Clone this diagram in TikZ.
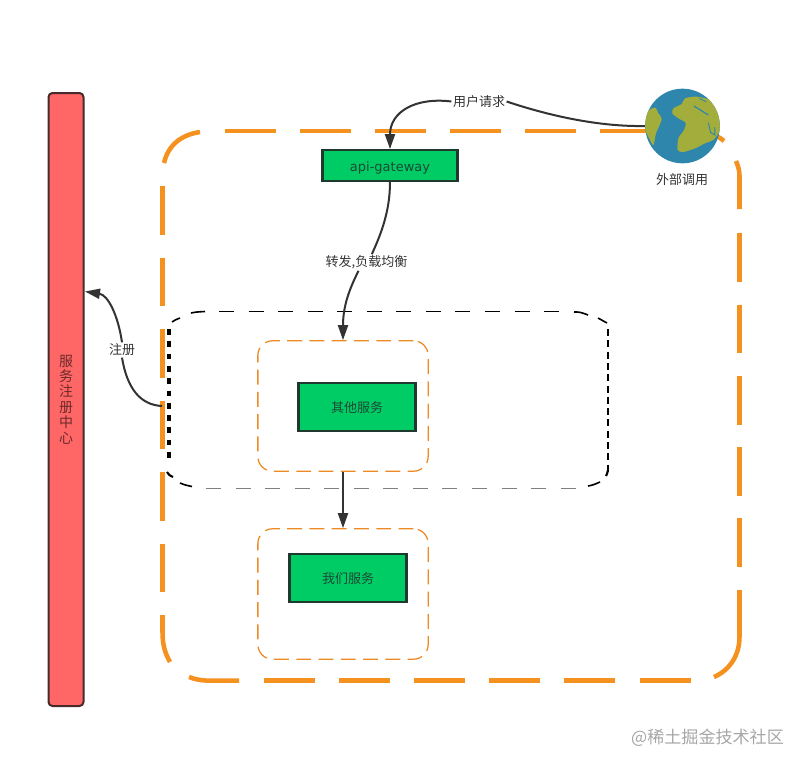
\documentclass[tikz,border=0pt]{standalone}
\usepackage{fontspec}
\setmainfont{Noto Sans CJK SC}
\newfontfamily\latinfont{DejaVu Sans}
\usetikzlibrary{arrows.meta}
\definecolor{frameorange}{HTML}{F5911E}
\definecolor{zoneorange}{HTML}{EE8A24}
\definecolor{servicegreen}{HTML}{00CC66}
\definecolor{greenedge}{HTML}{20392E}
\definecolor{greentext}{HTML}{1B4A33}
\definecolor{registryred}{HTML}{FF6666}
\definecolor{rededge}{HTML}{472A2A}
\definecolor{redtext}{HTML}{6B2B2B}
\definecolor{inkgrey}{HTML}{333333}
\definecolor{globeblue}{HTML}{2F86AC}
\definecolor{globegreen}{HTML}{A2AD3B}
\tikzstyle{gateway} = [rectangle, draw=greenedge, fill=servicegreen, line width=1.6pt, text=greentext,
font=\latinfont\fontsize{9.75}{12}\selectfont, minimum width=101.3pt, minimum height=23pt, inner sep=0pt]
\tikzstyle{service} = [rectangle, draw=greenedge, fill=servicegreen, line width=1.6pt, text=greentext,
font=\fontsize{9.75}{12}\selectfont, minimum width=87.8pt, minimum height=35.5pt, inner sep=0pt]
\tikzstyle{registry} = [rectangle, draw=rededge, fill=registryred, line width=1.5pt, rounded corners=3pt, text=redtext,
font=\fontsize{10.5}{11.6}\selectfont, align=center, minimum width=26.25pt, minimum height=459.75pt, inner sep=0pt]
\tikzstyle{zone} = [rectangle, draw=zoneorange, line width=0.95pt, rounded corners=11pt,
dash pattern=on 11.2pt off 5.5pt, minimum width=127.7pt, minimum height=97.8pt, inner sep=0pt]
\tikzstyle{caption} = [text=inkgrey, font=\fontsize{9.75}{12}\selectfont, inner sep=1pt]
\tikzstyle{frame} = [draw=frameorange, line width=3.4pt]
\tikzstyle{wire} = [draw=inkgrey, line width=1.5pt]
\tikzstyle{line} = [wire, -{Triangle[length=11.25pt,width=7.5pt]}]

\begin{document}
\begin{tikzpicture}[x=0.75pt, y=-0.75pt]
	\useasboundingbox (0,0) rectangle (804,768);

	% outer frame
	\foreach \xpos in {225,300,...,600}
		\draw [frame] (\xpos,131) -- ++(51,0);
	\foreach \ypos in {186,257.5,329,400.5,472,543.5}
		\draw [frame] (162.5,\ypos) -- ++(0,48.5);
	\foreach \ypos in {233,304.5,376,447,518}
		\draw [frame] (739.5,\ypos) -- ++(0,48.5);
	\foreach \xpos in {264,339,414,489,564,640}
		\draw [frame] (\xpos,680.7) -- ++(51,0);
	\draw [frame] (200,132) .. controls (180,135) and (168,146) .. (164,163);
	\draw [frame] (162.5,615) -- (162.5,632) .. controls (162.5,645) and (165,653) .. (170,662);
	\draw [frame] (189,677) .. controls (196,680) and (204,680.7) .. (212,680.7) -- (239,680.7);
	\draw [frame] (714,677) .. controls (730,670) and (739.5,655) .. (739.5,637) -- (739.5,590);
	\draw [frame] (736,161) .. controls (739,168) and (739.5,172) .. (739.5,176) -- (739.5,209);
	\draw [frame] (675,131) -- (695,131) .. controls (705,131) and (716,134) .. (724,141);

	% black box round the service
	\foreach \xpos in {219,248.55,...,545}
		\draw [black, line width=1.2pt] (\xpos,311.5) -- ++(15,0);
	\foreach \xpos in {206,235.55,...,562}
		\draw [gray, line width=0.7pt] (\xpos,488) -- ++(15,0);
	\foreach \ypos in {329,340.3,...,465}
		\draw [black, line width=1.6pt] (607.7,\ypos) -- ++(0,7);
	\foreach \ypos in {329,341.3,...,462}
		\draw [black, line width=2.7pt] (168.7,\ypos) -- ++(0,5.7);
	\draw [black, line width=1.2pt] (172,322) .. controls (175,320) .. (180,318);
	\draw [black, line width=1.2pt] (191,313) .. controls (196,312) .. (205,311.5);
	\draw [black, line width=1.2pt] (574,312) .. controls (580,312) .. (588,315);
	\draw [black, line width=1.2pt] (598,318) .. controls (603,320) .. (607,323);
	\draw [black, line width=1.2pt] (588,486) .. controls (593,485) .. (600,482);
	\draw [black, line width=1.6pt] (606,476) .. controls (607,474) .. (608,470);
	\draw [black, line width=1.2pt] (180,483) .. controls (185,485) .. (192,486.5);
	\draw [black, line width=1.6pt] (167,472) .. controls (169,475) .. (173,477);

	\node [registry] (registry) at (66,399.5) {服\\务\\注\\册\\中\\心};
	\node [zone] (otherzone) at (343,406) {};
	\node [zone] (ourzone) at (343,594) {};
	\node [service] (otherservice) at (357,407) {\raisebox{-4pt}[0pt][0pt]{其他服务}};
	\node [service] (ourservice) at (348,578) {\raisebox{-4pt}[0pt][0pt]{我们服务}};
	\node [gateway] (gateway) at (390,165.5) {\raisebox{-4.6pt}[0pt][0pt]{api-gateway}};

	% globe
	\node [circle, fill=globeblue, minimum size=56pt, inner sep=0pt] (globe) at (682.5,126) {};
	\begin{scope}
		\clip (682.5,126) circle (37.3);
		\begin{scope}[shift={(640,80)}, x=0.25pt, y=-0.25pt]
			\fill [globegreen] plot [smooth cycle, tension=0.5] coordinates {(10,125) (22,95) (45,83) (55,100) (65,118) (48,160) (40,195) (25,170) (10,140)};
			\fill [globegreen] plot [smooth cycle, tension=0.4] coordinates {(97,100) (100,85) (125,72) (135,55) (170,50) (215,62) (238,100) (246,140) (222,178) (195,190) (165,205) (130,216) (113,210) (115,175) (132,150) (137,128) (115,115)};
			\draw [globeblue, line width=0.9pt] (162,78) -- (205,105);
			\draw [globeblue, line width=0.7pt] (178,55) -- (198,65);
			\draw [globeblue, line width=0.7pt] (205,128) -- (212,158) -- (225,165) -- (224,142);
		\end{scope}
	\end{scope}
	\node [caption] (globelabel) at (682,180) {外部调用};

	\node [caption] (requestlabel) at (479,101.5) {用户请求};
	\node [caption] (forwardlabel) at (366.5,262.5) {转发,负载均衡};
	\node [caption] (registerlabel) at (122,350) {注册};
	\coordinate (zonewest) at (162,406);

	\path [wire] (globe.west) .. controls (590,127) and (535,111) .. (requestlabel.east);
	\path [line] (requestlabel.west) .. controls (415,97) and (390,112) .. (gateway.north);
	\path [wire] (gateway.south) .. controls (390,210) and (382,232) .. ([xshift=4pt]forwardlabel.north);
	\path [line] ([xshift=-6pt]forwardlabel.south) .. controls (350,288) and (343,305) .. (otherzone.north);
	\path [line] (otherzone.south) -- (ourzone.north);
	\path [wire] (zonewest) .. controls (140,405) and (127,388) .. (registerlabel.south);
	\path [line] (registerlabel.north) .. controls (118,315) and (108,295) .. (85,291.5);

	\node [text=gray!70, font=\fontsize{12.8}{15}\selectfont, inner sep=0pt] (watermark) at (707.5,738) {@稀土掘金技术社区};
\end{tikzpicture}
\end{document}
